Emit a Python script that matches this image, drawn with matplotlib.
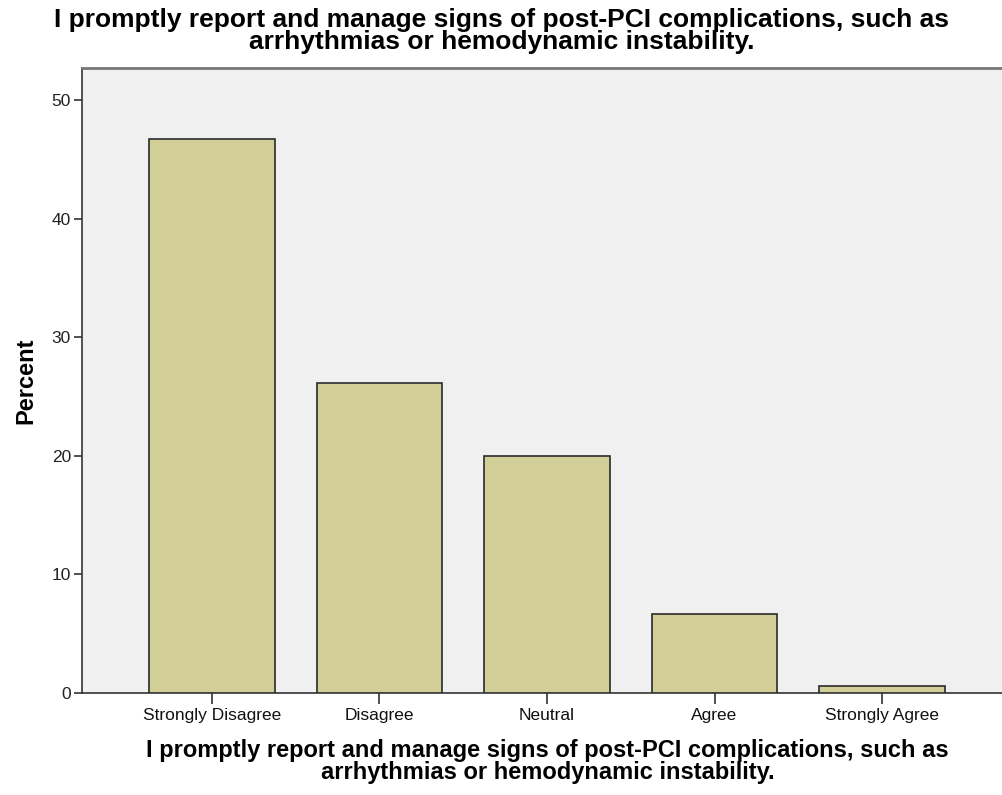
import matplotlib; matplotlib.use('Agg')
import matplotlib.pyplot as plt
from matplotlib import font_manager

# ── Data ─────────────────────────────────────────────────────────────────────
CATEGORIES = ['Strongly Disagree', 'Disagree', 'Neutral', 'Agree', 'Strongly Agree']
PERCENT    = [46.7, 26.1, 20.0, 6.7, 0.6]
Y_TICKS    = [0, 10, 20, 30, 40, 50]
TITLE = ('I promptly report and manage signs of post-PCI complications, such as\n'
         'arrhythmias or hemodynamic instability.')

names = {f.name for f in font_manager.fontManager.ttflist}
NARROW = ['Liberation Sans Narrow'] if 'Liberation Sans Narrow' in names else ['Liberation Sans']
plt.rcParams['font.family'] = ['Liberation Sans', 'DejaVu Sans']

fig = plt.figure(figsize=(10.03, 7.95), dpi=100)
ax = fig.add_axes([82/1003, 1 - 693/795, 1 - 82/1003 + 0.01, (693 - 68)/795])
ax.set_facecolor('#F0F0F0')

x = list(range(len(CATEGORIES)))
ax.bar(x, PERCENT, width=0.752, color='#D2CE97', edgecolor='#2b2b2b', lw=1.2, zorder=3)

ax.set_xlim(-0.776, (1013 - 212)/167.5)
ax.set_ylim(0, 52.7)
ax.set_yticks(Y_TICKS)
ax.set_yticklabels([str(v) for v in Y_TICKS], fontsize=12.5, color='#222')
ax.set_xticks(x)
ax.set_xticklabels(CATEGORIES, fontsize=12.5, family=NARROW, color='#111')
ax.tick_params(axis='y', length=6, width=1.2, color='#333', pad=2)
ax.tick_params(axis='x', length=8, width=1.2, color='#333', pad=3)

for s in ['left', 'bottom']:
    ax.spines[s].set_color('#333')
    ax.spines[s].set_linewidth(1.2)
ax.spines['right'].set_visible(False)
ax.spines['top'].set_color('#777')
ax.spines['top'].set_linewidth(2)

ax.set_ylabel('Percent', fontsize=17, fontweight='bold', labelpad=10)
ax.set_xlabel(TITLE, fontsize=17, fontweight='bold', family=NARROW, labelpad=11,
              linespacing=0.95)
fig.text(0.5, 1 - 8/795, TITLE, ha='center', va='top', fontsize=19,
         fontweight='bold', linespacing=0.92)

fig.savefig('out.png', dpi=100)
